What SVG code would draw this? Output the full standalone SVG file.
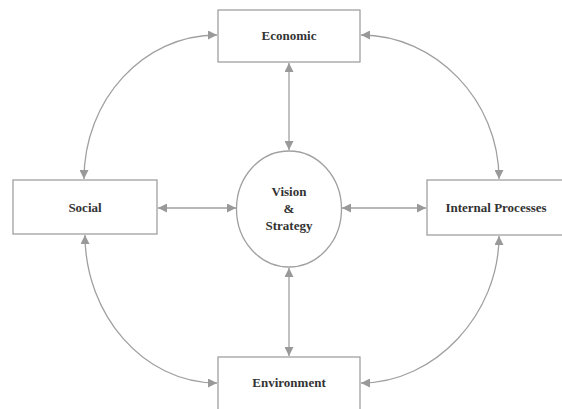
<svg xmlns="http://www.w3.org/2000/svg" width="562" height="409" viewBox="0 0 562 409">
<style>
.box{fill:#fff;stroke:#a0a0a0;stroke-width:1.3}
.lbl{font-family:"Liberation Serif",serif;font-weight:bold;font-size:13px;fill:#333;text-anchor:middle}
.con{fill:none;stroke:#a0a0a0;stroke-width:1.3}
</style>
<defs>
<marker id="ah" viewBox="0 0 10 10" refX="10" refY="5" markerWidth="10" markerHeight="9" markerUnits="userSpaceOnUse" orient="auto-start-reverse">
<path d="M0,0 L10,5 L0,10 z" fill="#999"/>
</marker>
</defs>
<rect width="562" height="409" fill="#fff"/>
<g id="economic"><rect class="box" x="218" y="10" width="142" height="52"/><text class="lbl" x="289" y="40">Economic</text></g>
<g id="social"><rect class="box" x="13" y="180" width="144" height="54"/><text class="lbl" x="85" y="212">Social</text></g>
<g id="internal"><rect class="box" x="427" y="180" width="140" height="55"/><text class="lbl" x="496" y="212">Internal Processes</text></g>
<g id="environment"><rect class="box" x="218" y="357" width="142" height="60"/><text class="lbl" x="289" y="387">Environment</text></g>
<g id="vision"><ellipse class="box" cx="289" cy="209" rx="52.5" ry="58"/>
<text class="lbl" x="289" y="196">Vision</text><text class="lbl" x="289" y="213">&amp;</text><text class="lbl" x="289" y="230">Strategy</text></g>
<g id="connectors">
<path class="con" d="M289,63 L289,150" marker-start="url(#ah)" marker-end="url(#ah)"/>
<path class="con" d="M289,268 L289,356" marker-start="url(#ah)" marker-end="url(#ah)"/>
<path class="con" d="M158,208 L236,208" marker-start="url(#ah)" marker-end="url(#ah)"/>
<path class="con" d="M342,208 L426,208" marker-start="url(#ah)" marker-end="url(#ah)"/>
<path class="con" d="M217,35 C143,35 84,100 84,179" marker-start="url(#ah)" marker-end="url(#ah)"/>
<path class="con" d="M361,35 C435,35 499,100 499,179" marker-start="url(#ah)" marker-end="url(#ah)"/>
<path class="con" d="M85,235 C85,314 143,383 217,383" marker-start="url(#ah)" marker-end="url(#ah)"/>
<path class="con" d="M499,236 C499,314 435,383 361,383" marker-start="url(#ah)" marker-end="url(#ah)"/>
</g>
</svg>
